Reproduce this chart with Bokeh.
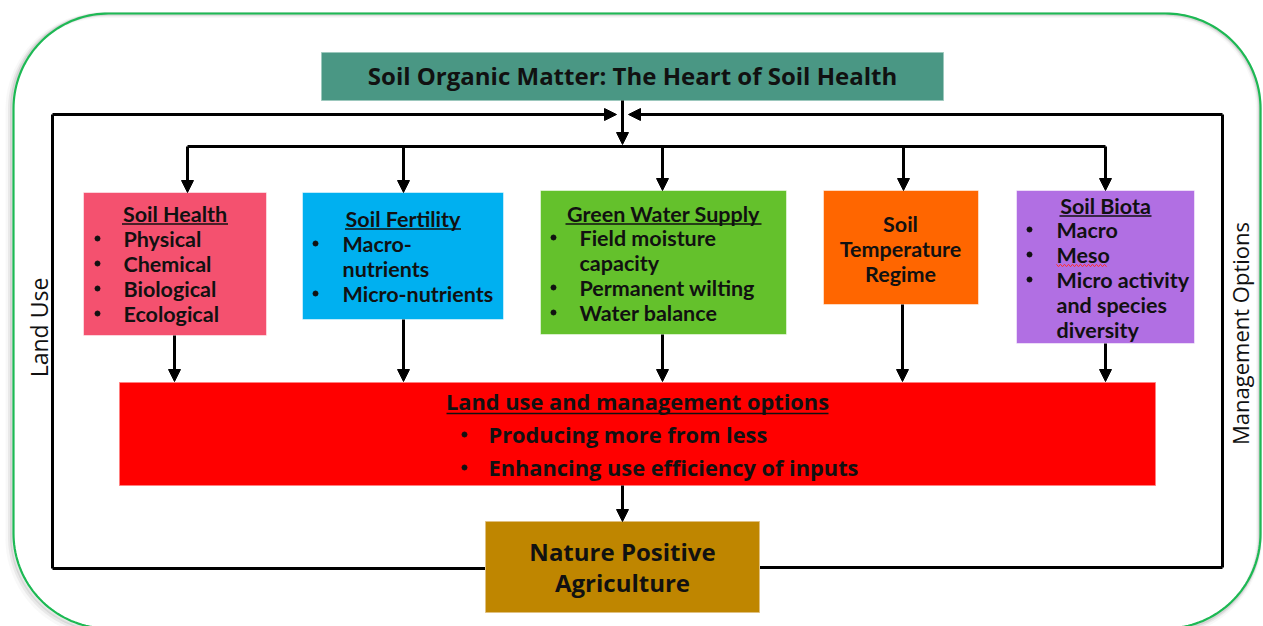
import numpy as np
from bokeh.plotting import figure
from bokeh.models import Range1d, Arrow, NormalHead
from bokeh.core.properties import value
from bokeh.embed import file_html
from bokeh.resources import INLINE

# ---------------- content ----------------
title_text = "Soil Organic Matter: The Heart of Soil Health"
box_titles = ["Soil Health", "Soil Fertility", "Green Water Supply", "", "Soil Biota"]
box_items = [
    ["Physical", "Chemical", "Biological", "Ecological"],
    ["Macro-\nnutrients", "Micro-nutrients"],
    ["Field moisture\ncapacity", "Permanent wilting", "Water balance"],
    [],
    ["Macro", "Meso", "Micro activity\nand species\ndiversity"],
]
temp_text = "Soil\nTemperature\nRegime"
options_title = "Land use and management options"
options_items = ["Producing more from less", "Enhancing use efficiency of inputs"]
outcome_text = "Nature Positive\nAgriculture"
side_left = "Land Use"
side_right = "Management Options"

box_colors = ["#F4516F", "#00B0F0", "#64C12C", "#FF6600", "#B16FE3"]
title_color = "#4A9784"
options_color = "#FF0000"
outcome_color = "#BF8600"
border_color = "#1DB954"

# ---------------- layout (pixel space) ----------------
box_l = [83, 302, 540, 823, 1016]
box_t = [192, 192, 190, 190, 190]
box_r = [266, 503, 786, 978, 1194]
box_b = [335, 319, 334, 304, 343]
box_title_y = [213, 218, 213, 0, 205]
box_line0 = [238, 243, 237, 223, 229]
bullet_x = [97, 315, 553, 0, 1029]
text_x = [123, 342, 579, 0, 1056]
ul_half = [53, 58, 98, 0, 46]
top_arrow_x = [187, 403, 662, 903, 1105]
bot_arrow_x = [174, 403, 662, 902, 1105]
LS = 25  # line spacing

W, H = 1263, 626
p = figure(width=W, height=H, x_range=Range1d(0, W), y_range=Range1d(H, 0),
           output_backend="svg", toolbar_location=None, min_border=0)
p.axis.visible = False
p.grid.visible = False
p.outline_line_color = None
p.background_fill_color = "white"
p.border_fill_color = "white"

LATO = value("Lato")
OPEN = value("Open Sans")
INK = "#111111"


def rrect(x0, y0, x1, y1, r, n=40):
    xs, ys = [], []
    for cx, cy, a0 in [(x1 - r, y0 + r, -90), (x1 - r, y1 - r, 0),
                       (x0 + r, y1 - r, 90), (x0 + r, y0 + r, 180)]:
        t = np.radians(np.linspace(a0, a0 + 90, n))
        xs += list(cx + r * np.cos(t))
        ys += list(cy + r * np.sin(t))
    xs.append(xs[0]); ys.append(ys[0])
    return xs, ys


# outer rounded border with soft shadow
for off, a, lw in [(5, 0.06, 6), (3.5, 0.12, 4), (2, 0.2, 3)]:
    sx, sy = rrect(13 - off, 13 + off * 0.3, 1260 - off * 0.3, 628 + off, 95)
    p.line(sx, sy, line_color="gray", line_alpha=a, line_width=lw)
bx, by = rrect(13, 13, 1260, 628, 95)
p.line(bx, by, line_color=border_color, line_width=2.2)

LW = 3
head = lambda: NormalHead(size=12, fill_color="black", line_color="black", line_width=1)

# feedback loop
p.line([52, 52], [568, 114], line_color="black", line_width=LW)
p.line([1222, 1222], [567, 114], line_color="black", line_width=LW)
p.line([52, 485], [568, 568], line_color="black", line_width=LW)
p.line([759, 1222], [567, 567], line_color="black", line_width=LW)
p.add_layout(Arrow(end=head(), x_start=52, y_start=114, x_end=616, y_end=114, line_width=LW))
p.add_layout(Arrow(end=head(), x_start=1222, y_start=114, x_end=628, y_end=114, line_width=LW))
# from title down to distribution line
p.add_layout(Arrow(end=head(), x_start=622, y_start=100, x_end=622, y_end=144, line_width=LW))
p.line([min(top_arrow_x), max(top_arrow_x)], [146, 146], line_color="black", line_width=LW)
for i, xa in enumerate(top_arrow_x):
    p.add_layout(Arrow(end=head(), x_start=xa, y_start=146, x_end=xa, y_end=box_t[i],
                       line_width=LW))
for i, xa in enumerate(bot_arrow_x):
    p.add_layout(Arrow(end=head(), x_start=xa, y_start=box_b[i], x_end=xa, y_end=381,
                       line_width=LW))
p.add_layout(Arrow(end=head(), x_start=622, y_start=485, x_end=622, y_end=521, line_width=LW))

# boxes
p.quad(left=[321], right=[943], top=[52], bottom=[100], fill_color=title_color,
       line_color="#9CC8BD", line_width=1)
p.quad(left=box_l, right=box_r, top=box_t, bottom=box_b, fill_color=box_colors,
       line_color="#FFFFFF", line_alpha=0.5, line_width=1)
p.quad(left=[119], right=[1155], top=[382], bottom=[485], fill_color=options_color,
       line_color="#FF8080", line_width=1)
p.quad(left=[485], right=[759], top=[521], bottom=[612], fill_color=outcome_color,
       line_color="#E0C080", line_width=1)

# title text
p.text(x=[632], y=[75], text=[title_text], text_font=OPEN, text_font_style="bold",
       text_font_size="24px", text_align="center", text_baseline="middle", text_color=INK)

# box titles
tx, ty, tt = [], [], []
ulx, uly = [], []
for i in range(5):
    cx = (box_l[i] + box_r[i]) / 2
    if box_titles[i]:
        tx.append(cx); ty.append(box_title_y[i]); tt.append(box_titles[i])
        ulx.append([cx - ul_half[i], cx + ul_half[i]])
        uly.append([box_title_y[i] + 10.5, box_title_y[i] + 10.5])
p.text(x=tx, y=ty, text=tt, text_font=LATO, text_font_style="bold", text_font_size="21.5px",
       text_align="center", text_baseline="middle", text_color=INK)

# bullet items
lx, ly, lt = [], [], []
bx_, by_ = [], []
for i in range(5):
    row = 0
    for item in box_items[i]:
        bx_.append(bullet_x[i]); by_.append(box_line0[i] + row * LS)
        for part in item.split("\n"):
            lx.append(text_x[i]); ly.append(box_line0[i] + row * LS); lt.append(part)
            row += 1
p.text(x=lx, y=ly, text=lt, text_font=LATO, text_font_style="bold", text_font_size="21.5px",
       text_align="left", text_baseline="middle", text_color=INK)
p.scatter(x=bx_, y=by_, size=5, marker="circle", fill_color=INK, line_color=INK)

# soil temperature box text
tparts = temp_text.split("\n")
p.text(x=[900] * len(tparts), y=[box_line0[3] + k * LS for k in range(len(tparts))], text=tparts,
       text_font=LATO, text_font_style="bold", text_font_size="21.5px", text_align="center",
       text_baseline="middle", text_color=INK)

# options box
p.text(x=[637], y=[401], text=[options_title], text_font=OPEN, text_font_style="bold",
       text_font_size="21.8px", text_align="center", text_baseline="middle", text_color=INK)
ulx.append([446, 828]); uly.append([413, 413])
p.text(x=[488, 488], y=[434, 467], text=options_items, text_font=OPEN, text_font_style="bold",
       text_font_size="21.8px", text_align="left", text_baseline="middle", text_color=INK)
p.scatter(x=[464, 464], y=[434, 467], size=5, marker="circle", fill_color=INK, line_color=INK)

p.multi_line(ulx, uly, line_color=INK, line_width=1.5)

# outcome
oparts = outcome_text.split("\n")
p.text(x=[622, 622], y=[551, 582], text=oparts, text_font=OPEN, text_font_style="bold",
       text_font_size="24px", text_align="center", text_baseline="middle", text_color=INK)

# side labels
p.text(x=[38], y=[327], text=[side_left], text_font=OPEN, text_font_style="normal",
       text_font_size="23px", text_align="center", text_baseline="middle", angle=np.pi / 2,
       text_color=INK)
p.text(x=[1239], y=[333], text=[side_right], text_font=OPEN, text_font_style="normal",
       text_font_size="22px", text_align="center", text_baseline="middle", angle=np.pi / 2,
       text_color=INK)

# spell-check squiggle under "Meso"
sqx = np.linspace(1056, 1106, 26)
sqy = 265 + 1.2 * np.where(np.arange(26) % 2 == 0, -1, 1)
p.line(sqx, sqy, line_color="#FF3030", line_width=1)

open("out.html", "w").write(file_html(p, INLINE))
